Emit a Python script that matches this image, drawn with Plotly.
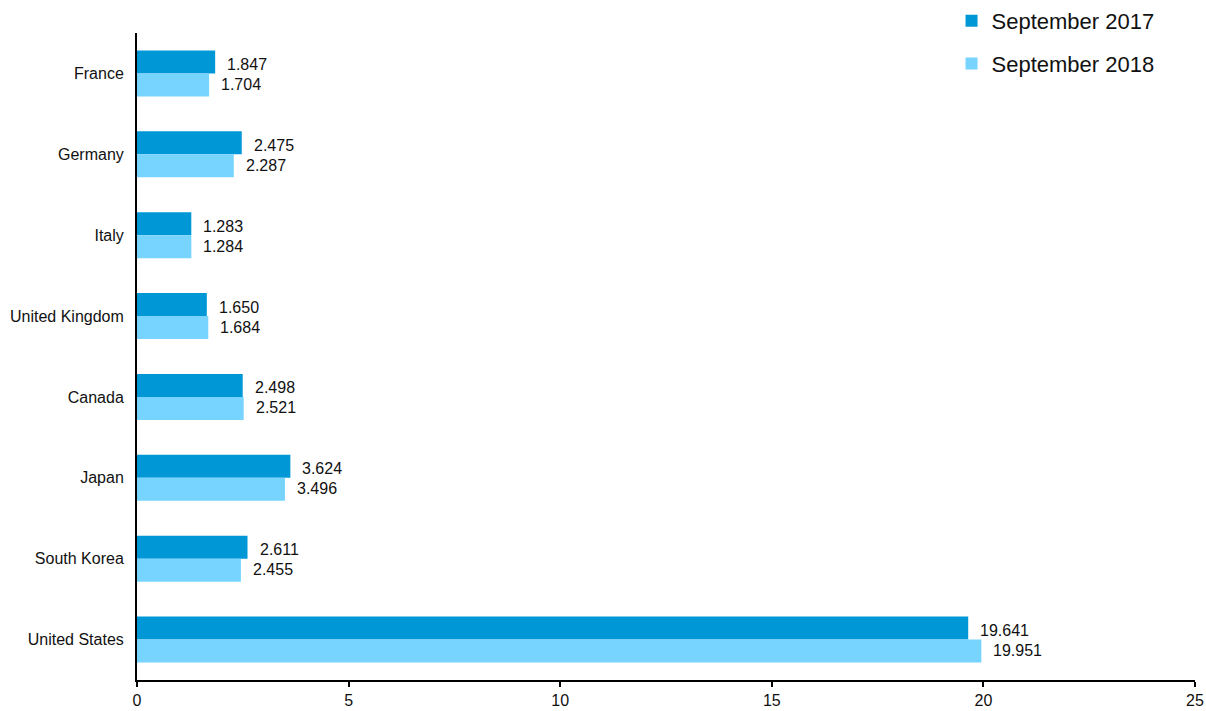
import plotly.graph_objects as go

countries = ["France", "Germany", "Italy", "United Kingdom", "Canada", "Japan", "South Korea", "United States"]
sep_2017 = [1.847, 2.475, 1.283, 1.650, 2.498, 3.624, 2.611, 19.641]
sep_2018 = [1.704, 2.287, 1.284, 1.684, 2.521, 3.496, 2.455, 19.951]
x_ticks = [0, 5, 10, 15, 20, 25]

FONT = "Liberation Sans, Arial, sans-serif"
C2017 = "#0097d7"
C2018 = "#77d4ff"

fig = go.Figure()
for name, vals, color, grp in [("September 2017", sep_2017, C2017, "a"),
                               ("September 2018", sep_2018, C2018, "b")]:
    fig.add_trace(go.Bar(
        y=countries, x=vals, name=name, orientation="h",
        marker=dict(color=color, line=dict(width=0)),
        legendgroup=grp,
    ))

# value labels placed just to the right of each bar end
for vals, yshift in [(sep_2017, 9), (sep_2018, -11)]:
    for c, v in zip(countries, vals):
        fig.add_annotation(x=v, y=c, text=f"{v:.3f}", showarrow=False,
                           xanchor="left", yanchor="middle", xshift=10, yshift=yshift,
                           font=dict(family=FONT, size=16, color="#111111"))

fig.update_layout(
    width=1206, height=711,
    margin=dict(l=137, r=11, t=33, b=31, autoexpand=False),
    paper_bgcolor="white", plot_bgcolor="white",
    barmode="group", bargap=0.43, bargroupgap=0,
    font=dict(family=FONT, size=16, color="#111111"),
    legend=dict(
        xref="container", yref="container", x=0.789, y=1.002,
        xanchor="left", yanchor="top", traceorder="grouped", tracegroupgap=11,
        font=dict(family=FONT, size=22, color="#111111"),
        bgcolor="rgba(0,0,0,0)",
    ),
    xaxis=dict(range=[0, 25], tickvals=x_ticks, showgrid=False, zeroline=False,
               showline=True, linecolor="black", linewidth=2,
               ticks="outside", ticklen=5, tickwidth=1.5, tickcolor="black",
               tickfont=dict(size=16)),
    yaxis=dict(autorange="reversed", showgrid=False, zeroline=False,
               showline=True, linecolor="black", linewidth=2,
               ticks="", ticklabelstandoff=8, tickfont=dict(size=16)),
)

fig.write_html("out.html")
